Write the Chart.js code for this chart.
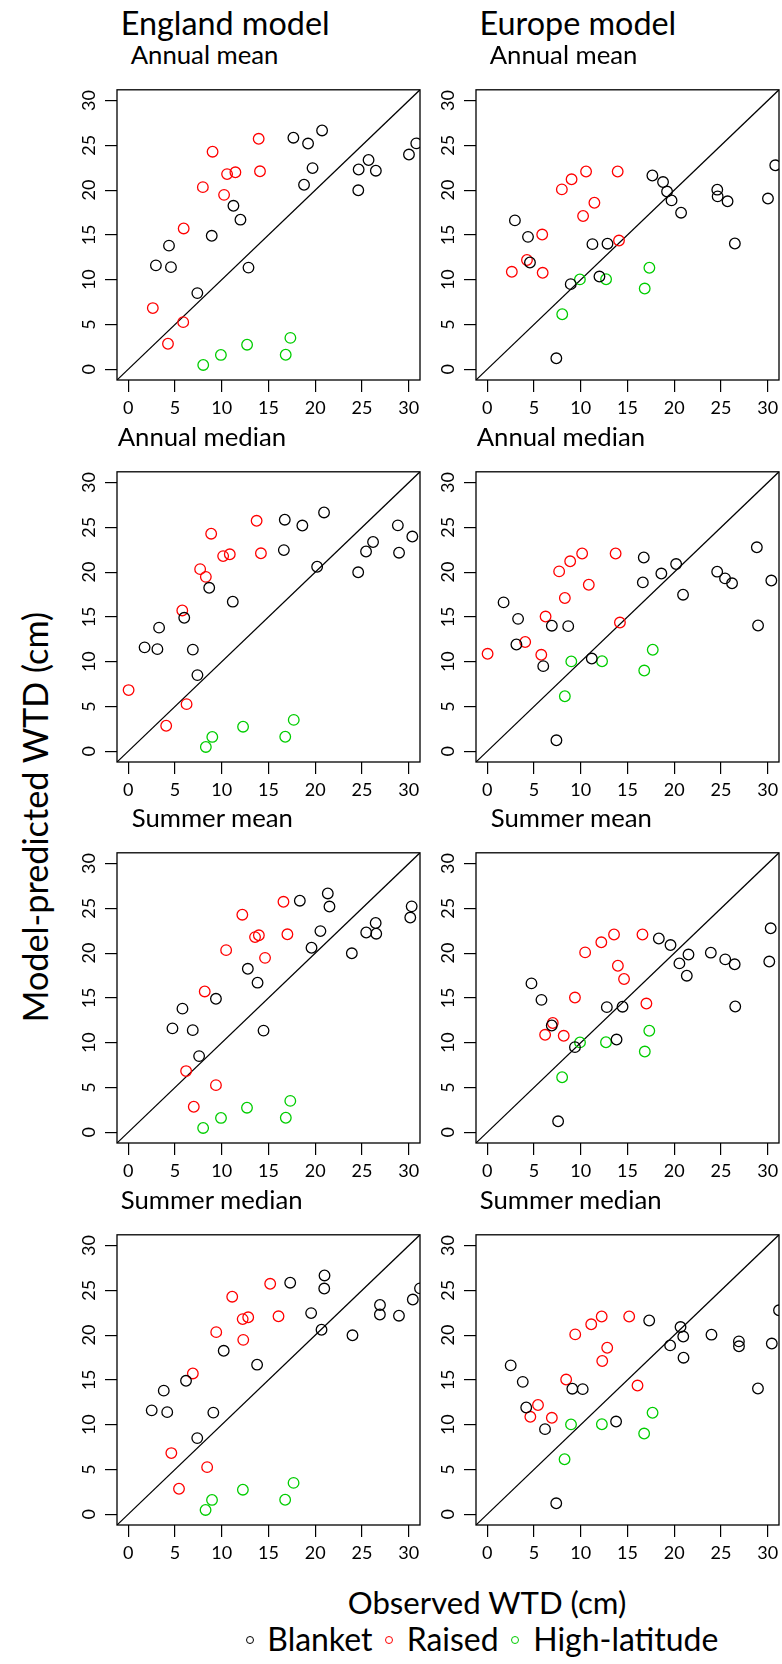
<!DOCTYPE html>
<html>
<head>
<meta charset="utf-8">
<title>Observed vs model-predicted WTD</title>
<script src="https://cdn.jsdelivr.net/npm/chart.js@4.4.1/dist/chart.umd.min.js"></script>
<style>
  html, body { margin: 0; padding: 0; background: #fff; }
  body { width: 782px; height: 1664px; position: relative; overflow: hidden; font-family: Lato, "Open Sans", sans-serif; color: #000; }
  canvas.panel { position: absolute; }
  .txt { position: absolute; white-space: nowrap; line-height: 1; }
  .dot { position: absolute; width: 8px; height: 8px; border-radius: 50%; box-sizing: border-box; border: 1.3px solid #000; }
</style>
</head>
<body>
<script>
// ─── DATA ───
// site order: 19 blanket, 11 raised, 5 high-latitude bogs
const groupNames = ['Blanket', 'Raised', 'High-latitude'];
const groupColors = ['#000000', '#ff0000', '#00cd00'];
const siteGroup = [
  0, 0, 0, 0, 0, 0, 0, 0, 0, 0, 0, 0, 0, 0, 0, 0, 0, 0, 0,
  1, 1, 1, 1, 1, 1, 1, 1, 1, 1, 1,
  2, 2, 2, 2, 2
];

// model-predicted WTD (cm), one value per site
const englandPred = [
  11.6, 13.8, 11.4, 8.5, 14.9, 18.25, 16.7, 11.35, 25.85, 20.6, 25.2, 22.46, 26.66, 19.98, 22.3, 23.36, 22.17, 23.97, 25.22,
  6.83, 2.85, 5.26, 15.72, 20.33, 24.29, 19.47, 21.79, 21.99, 25.73, 22.1,
  0.48, 1.6, 2.74, 1.62, 3.5
];
const europePred = [
  16.62, 14.78, 11.92, 1.22, 9.5, 13.97, 10.35, 14.02, 21.63, 20.9, 19.84, 18.85, 17.48, 20.05, 19.3, 18.75, 14.04, 19.06, 22.77,
  10.88, 12.2, 15.04, 10.77, 20.08, 21.21, 17.11, 22.08, 18.59, 22.08, 14.37,
  6.14, 10.03, 10.05, 9.01, 11.33
];

// observed WTD (cm) summaries, same site order
const obsAnnualMean = [
  2.96, 4.36, 4.57, 7.39, 8.93, 11.25, 12.0, 12.86, 17.66, 18.8, 19.23, 19.71, 20.73, 24.6, 24.64, 25.7, 26.48, 30.02, 30.8,
  2.63, 4.25, 5.88, 5.93, 7.98, 9.02, 10.25, 10.57, 11.46, 13.95, 14.09,
  8.02, 9.91, 12.71, 16.84, 17.34
];
const obsAnnualMedian = [
  1.75, 3.3, 3.12, 7.4, 5.99, 8.66, 11.18, 6.91, 16.74, 20.2, 18.62, 16.64, 20.94, 24.59, 25.43, 26.18, 28.96, 30.38, 28.83,
  0.04, 4.06, 6.24, 5.78, 7.69, 8.87, 8.3, 10.15, 10.86, 13.73, 14.19,
  8.3, 8.99, 12.28, 16.79, 17.7
];
const obsSummerMean = [
  4.73, 5.8, 6.9, 7.58, 9.38, 12.79, 13.83, 14.47, 18.35, 19.6, 21.52, 20.55, 21.34, 23.91, 25.45, 26.46, 26.52, 30.16, 30.31,
  6.19, 7.01, 9.38, 8.18, 10.47, 12.2, 14.63, 13.56, 13.97, 16.6, 17.02,
  8.01, 9.92, 12.7, 16.85, 17.33
];
const obsSummerMedian = [
  2.51, 3.8, 4.17, 7.38, 6.18, 10.21, 13.78, 9.1, 17.32, 20.67, 20.96, 19.56, 20.99, 23.98, 26.91, 26.92, 28.95, 30.43, 31.2,
  4.61, 5.43, 8.44, 6.91, 9.41, 11.12, 12.3, 12.24, 12.83, 15.18, 16.07,
  8.27, 8.96, 12.26, 16.78, 17.68
];

const tickValues = [0, 5, 10, 15, 20, 25, 30];
const axisMin = -1.2;
const axisMax = 31.2;

const rowTitles = ['Annual mean', 'Annual median', 'Summer mean', 'Summer median'];
const rowObs = [obsAnnualMean, obsAnnualMedian, obsSummerMean, obsSummerMedian];
const modelNames = ['England model', 'Europe model'];
const modelPred = [englandPred, europePred];

// ─── LAYOUT ───
const FONT = 'Lato, "Open Sans", sans-serif';
const panelW = 370, panelH = 350;          // canvas size
const areaLeft = 60, areaTop = 6;           // chart area offset inside canvas
const colLeft = [57, 416];
const rowTop = [74, 456, 837, 1219];
const titleDx = [13.7, 0.7, 14.7, 3.7];     // panel title indent from plot edge

const measureCtx = document.createElement('canvas').getContext('2d');

// font size that makes str span the given width
function fitSize(str, width) {
  measureCtx.font = `100px ${FONT}`;
  return 100 * width / measureCtx.measureText(str).width;
}

// positions a line of text by its baseline
function addText(str, x, baseline, size, opts = {}) {
  measureCtx.font = `${size}px ${FONT}`;
  const m = measureCtx.measureText('Hg');
  const asc = m.fontBoundingBoxAscent, desc = m.fontBoundingBoxDescent;
  const fromTop = (size - (asc + desc)) / 2 + asc;
  const el = document.createElement('div');
  el.className = 'txt';
  el.textContent = str;
  el.style.fontSize = size + 'px';
  el.style.top = (baseline - fromTop) + 'px';
  if (opts.center) {
    el.style.left = (x - 300) + 'px';
    el.style.width = '600px';
    el.style.textAlign = 'center';
  } else {
    el.style.left = x + 'px';
  }
  document.body.appendChild(el);
  return el;
}

// frame round the plot region
const framePlugin = {
  id: 'frame',
  afterDatasetsDraw(chart) {
    const { ctx, chartArea: a } = chart;
    ctx.save();
    ctx.strokeStyle = '#000';
    ctx.lineWidth = 1.3;
    ctx.strokeRect(a.left, a.top, a.right - a.left, a.bottom - a.top);
    ctx.restore();
  }
};

function axisOpts(isY) {
  return {
    type: 'linear',
    min: axisMin,
    max: axisMax,
    afterBuildTicks: s => { s.ticks = tickValues.map(v => ({ value: v })); },
    afterFit: s => { if (isY) s.width = areaLeft; else s.height = panelH - areaTop - 300; },
    ticks: {
      font: { family: FONT, size: 18 },
      color: '#000',
      padding: 5,
      autoSkip: false,
      minRotation: isY ? 90 : 0,
      maxRotation: isY ? 90 : 0,
      crossAlign: isY ? 'center' : 'near'
    },
    grid: { drawOnChartArea: false, drawTicks: true, tickLength: 12, color: '#000', lineWidth: 1.2 },
    border: { display: false }
  };
}

const titleSize = fitSize('Summer median', 182.5);

function makePanel(row, col) {
  const cv = document.createElement('canvas');
  cv.className = 'panel';
  cv.width = panelW;
  cv.height = panelH;
  cv.style.left = colLeft[col] + 'px';
  cv.style.top = rowTop[row] + 'px';
  document.body.appendChild(cv);

  const obs = rowObs[row];
  const pred = modelPred[col];
  const datasets = groupNames.map((g, gi) => ({
    type: 'scatter',
    label: g,
    data: obs.map((x, i) => ({ x: x, y: pred[i] })).filter((_, i) => siteGroup[i] === gi),
    pointStyle: 'circle',
    pointRadius: 5.3,
    pointHoverRadius: 5.3,
    pointBorderWidth: 1.3,
    borderColor: groupColors[gi],
    backgroundColor: 'rgba(0,0,0,0)'
  }));
  // 1:1 line
  datasets.push({
    type: 'line',
    data: [{ x: axisMin, y: axisMin }, { x: axisMax, y: axisMax }],
    borderColor: '#000',
    borderWidth: 1.2,
    pointRadius: 0,
    fill: false,
    tension: 0
  });

  new Chart(cv, {
    type: 'scatter',
    data: { datasets },
    options: {
      responsive: false,
      animation: false,
      events: [],
      layout: { padding: { top: areaTop, right: panelW - areaLeft - 303, left: 0, bottom: 0 } },
      plugins: { legend: { display: false }, tooltip: { enabled: false } },
      scales: { x: axisOpts(false), y: axisOpts(true) }
    },
    plugins: [framePlugin]
  });

  const plotLeft = colLeft[col] + areaLeft;
  const plotTop = rowTop[row] + areaTop;
  addText(rowTitles[row], plotLeft + titleDx[row], plotTop - 15, titleSize);
}

// ─── BUILD ───
const headSize = fitSize(modelNames[0], 209);
addText(modelNames[0], 120.7, 36, headSize);
addText(modelNames[1], 479.6, 36, headSize);

for (let r = 0; r < 4; r++) {
  for (let c = 0; c < 2; c++) makePanel(r, c);
}

// axis titles
const axisSize = fitSize('Observed WTD (cm)', 279);
addText('Observed WTD (cm)', 487, 1615, axisSize, { center: true });
const yTitleSize = fitSize('Model-predicted WTD (cm)', 411);
const yTitle = addText('Model-predicted WTD (cm)', 0, 0, yTitleSize, { center: true });
yTitle.style.left = (35 - 300) + 'px';
yTitle.style.top = (817 - yTitleSize / 2) + 'px';
yTitle.style.transform = 'rotate(-90deg)';
yTitle.style.transformOrigin = '50% 50%';

// legend
const legendSize = fitSize('High-latitude', 185);
const legendItems = [
  { dot: 250, text: 267.3 },
  { dot: 389, text: 406.7 },
  { dot: 515, text: 533.3 }
];
legendItems.forEach((it, i) => {
  const d = document.createElement('div');
  d.className = 'dot';
  d.style.borderColor = groupColors[i];
  d.style.left = (it.dot - 4) + 'px';
  d.style.top = (1640 - 4) + 'px';
  document.body.appendChild(d);
  addText(groupNames[i], it.text, 1651.7, legendSize);
});
</script>
</body>
</html>
